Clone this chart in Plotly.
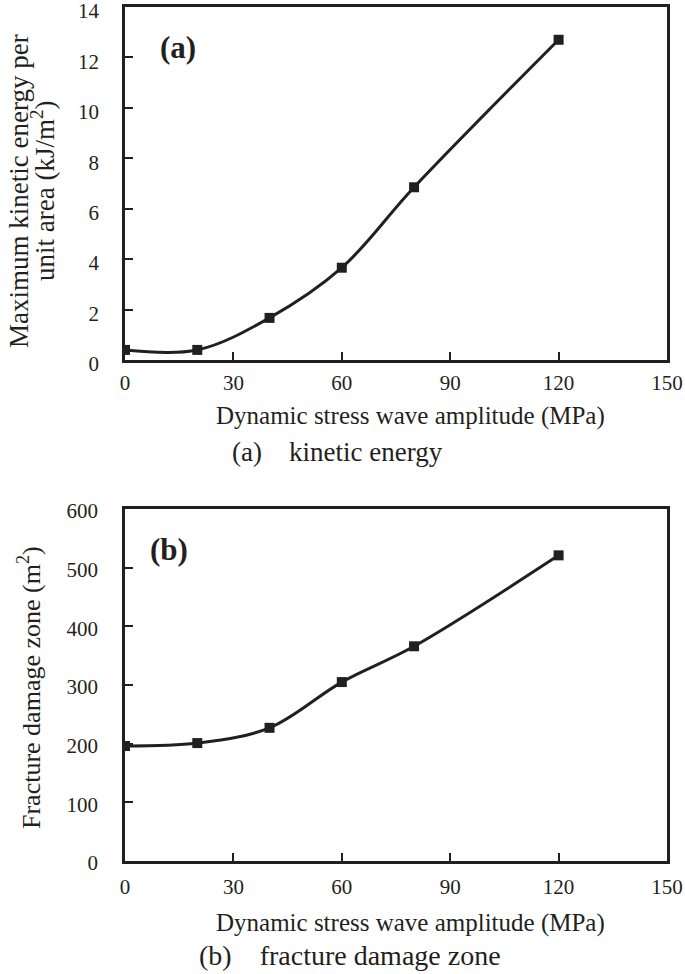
import plotly.graph_objects as go

amplitude = [0, 20, 40, 60, 80, 120]
kinetic_energy = [0.4, 0.4, 1.67, 3.66, 6.85, 12.7]
damage_zone = [196, 201, 227, 305, 366, 521]

x_ticks = [0, 30, 60, 90, 120, 150]
y_ticks_a = [0, 2, 4, 6, 8, 10, 12, 14]
y_ticks_b = [0, 100, 200, 300, 400, 500, 600]

INK = "#231f20"
FONT = "Liberation Serif"
W, H = 685, 974
NB = "\u00a0"

def px(x):
    return x / W

def py(y):
    return 1 - y / H

fig = go.Figure()
for ys, xa, ya in [(kinetic_energy, "x", "y"), (damage_zone, "x2", "y2")]:
    fig.add_trace(go.Scatter(x=amplitude, y=ys, mode="lines+markers",
                             line=dict(color=INK, width=3, shape="spline", smoothing=1),
                             marker=dict(symbol="square", size=10, color=INK),
                             xaxis=xa, yaxis=ya, showlegend=False))

axis_common = dict(showline=True, linecolor=INK, linewidth=2.5, mirror=True,
                   ticks="inside", ticklen=8, tickwidth=2, tickcolor=INK,
                   showgrid=False, zeroline=False, automargin=False,
                   ticklabeloverflow="allow",
                   tickfont=dict(family=FONT, size=21, color=INK))

xdom = [px(125), px(667)]
fig.update_layout(
    width=W, height=H, margin=dict(l=0, r=0, t=0, b=0),
    paper_bgcolor="white", plot_bgcolor="white",
    xaxis=dict(domain=xdom, range=[0, 150], tickvals=x_ticks, anchor="y",
               ticklabelstandoff=2, **axis_common),
    yaxis=dict(domain=[py(360), py(7)], range=[0, 14], tickvals=y_ticks_a, anchor="x",
               ticklabelstandoff=19, ticklabelshift=4, **axis_common),
    xaxis2=dict(domain=xdom, range=[0, 150], tickvals=x_ticks, anchor="y2",
                ticklabelstandoff=5, **axis_common),
    yaxis2=dict(domain=[py(861), py(509)], range=[0, 600], tickvals=y_ticks_b, anchor="x2",
                ticklabelstandoff=20, ticklabelshift=2, **axis_common),
)

def note(text, x, y, size, xanchor="center", angle=0):
    return dict(text=text, x=px(x), y=py(y), xref="paper", yref="paper",
                xanchor=xanchor, yanchor="middle", textangle=angle,
                showarrow=False, font=dict(family=FONT, size=size, color=INK))

fig.update_layout(annotations=[
    note("<b>(a)</b>", 178, 48, 31),
    note("<b>(b)</b>", 169, 549, 31),
    note("Dynamic stress wave amplitude (MPa)", 410, 416, 25),
    note("Dynamic stress wave amplitude (MPa)", 410, 923, 25),
    note("Maximum kinetic energy per", 19, 191, 27, angle=-90),
    note("unit area (kJ/m<sup>2</sup>)", 43, 191, 27, angle=-90),
    note("Fracture damage zone (m<sup>2</sup>)", 29, 688, 26, angle=-90),
    note("(a)" + NB * 4 + "kinetic energy", 230, 452, 27, xanchor="left"),
    note("(b)" + NB * 4 + "fracture damage zone", 197, 955, 28, xanchor="left"),
])

fig.write_html("out.html", config={"displayModeBar": False},
               post_script="document.body.style.margin='0px';")
